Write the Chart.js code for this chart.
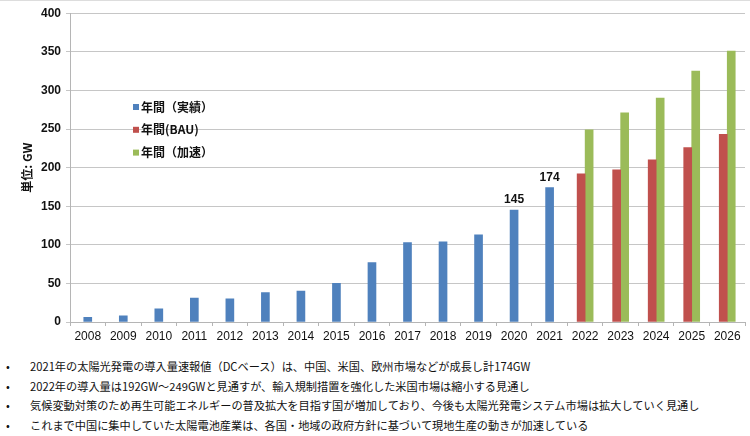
<!DOCTYPE html>
<html>
<head>
<meta charset="utf-8">
<script src="https://cdn.jsdelivr.net/npm/chart.js@4.4.1/dist/chart.umd.min.js"></script>
<style>
  html, body { margin: 0; padding: 0; background: #fff; }
  #wrap { position: relative; width: 750px; height: 436px; overflow: hidden; border-top: 1px solid #ddd; box-sizing: border-box; }
  #box { position: absolute; left: 0; top: 0; width: 750px; height: 345px; }
  #notes { position: absolute; left: 0; top: 356px; margin: 0; padding: 0; list-style: none;
           font-family: "Noto Sans CJK JP", sans-serif; font-size: 11.2px; color: #111; }
  #notes li { position: relative; height: 19.5px; line-height: 19.5px; padding-left: 30px; white-space: nowrap; }
  #notes li::before { content: "•"; position: absolute; left: 6px; }
</style>
</head>
<body>
<div id="wrap">
  <div id="box"><canvas id="chart"></canvas></div>
  <ul id="notes"></ul>
</div>
<script>
// --- data ---
const years = ['2008', '2009', '2010', '2011', '2012', '2013', '2014', '2015', '2016', '2017',
               '2018', '2019', '2020', '2021', '2022', '2023', '2024', '2025', '2026'];
const actual = [6, 8, 17, 31, 30, 38, 40, 50, 77, 103, 104, 113, 145, 174, null, null, null, null, null];
const bau = [null, null, null, null, null, null, null, null, null, null, null, null, null, null, 192, 197, 210, 226, 243];
const accel = [null, null, null, null, null, null, null, null, null, null, null, null, null, null, 249, 271, 290, 325, 351];
const seriesNames = ['年間（実績）', '年間(BAU)', '年間（加速）'];
const labelledYears = ['2020', '2021'];
const notes = [
    '2021年の太陽光発電の導入量速報値（DCベース）は、中国、米国、欧州市場などが成長し計174GW',
    '2022年の導入量は192GW～249GWと見通すが、輸入規制措置を強化した米国市場は縮小する見通し',
    '気候変動対策のため再生可能エネルギーの普及拡大を目指す国が増加しており、今後も太陽光発電システム市場は拡大していく見通し',
    'これまで中国に集中していた太陽電池産業は、各国・地域の政府方針に基づいて現地生産の動きが加速している'
];

document.getElementById('notes').innerHTML = notes.map(t => '<li>' + t + '</li>').join('');

const latin = '"Liberation Sans", Arial, sans-serif';

// values over the 2020 / 2021 bars
const valueLabels = {
    id: 'valueLabels',
    afterDatasetsDraw(chart) {
        const ctx = chart.ctx;
        const meta = chart.getDatasetMeta(0);
        ctx.save();
        ctx.font = 'bold 12px ' + latin;
        ctx.fillStyle = '#111';
        ctx.textAlign = 'center';
        ctx.textBaseline = 'bottom';
        years.forEach((y, i) => {
            if (!labelledYears.includes(y)) return;
            const bar = meta.data[i];
            ctx.fillText(String(actual[i]), bar.x, bar.y - 4);
        });
        ctx.restore();
    }
};

// legend drawn inside the plot
const innerLegend = {
    id: 'innerLegend',
    afterDraw(chart) {
        const ctx = chart.ctx;
        ctx.save();
        ctx.font = 'bold 12px "Noto Sans CJK JP", ' + latin;
        ctx.textBaseline = 'middle';
        chart.data.datasets.forEach((ds, i) => {
            const y = 106 + i * 22.8;
            ctx.fillStyle = ds.backgroundColor;
            ctx.fillRect(133, y - 3, 6, 6);
            ctx.fillStyle = '#111';
            ctx.fillText(ds.label, 141, y);
        });
        ctx.restore();
    }
};

new Chart(document.getElementById('chart'), {
    type: 'bar',
    data: {
        labels: years,
        datasets: [
            { label: seriesNames[0], data: actual, backgroundColor: '#4f81bd' },
            { label: seriesNames[1], data: bau, backgroundColor: '#c0504d' },
            { label: seriesNames[2], data: accel, backgroundColor: '#9bbb59' }
        ]
    },
    options: {
        responsive: true,
        maintainAspectRatio: false,
        animation: false,
        skipNull: true,
        barThickness: 8,
        layout: { padding: { top: 6, right: 5, left: 0, bottom: 0 } },
        plugins: {
            legend: { display: false },
            tooltip: { enabled: false }
        },
        scales: {
            x: {
                grid: { drawOnChartArea: false, drawTicks: true, tickLength: 4, color: '#b5b5b5', offset: true },
                border: { color: '#b5b5b5' },
                ticks: { color: '#111', font: { family: latin, size: 12 }, padding: 3, maxRotation: 0, autoSkip: false },
                afterFit(scale) { scale.height = 24; }
            },
            y: {
                min: 0,
                max: 400,
                ticks: { stepSize: 50, color: '#111', font: { family: latin, size: 12, weight: 'bold' }, padding: 5 },
                grid: { color: '#c6c6c6', tickLength: 4 },
                border: { color: '#b5b5b5' },
                title: {
                    display: true,
                    text: '単位: GW',
                    color: '#111',
                    font: { family: '"Noto Sans CJK JP", ' + latin, size: 12, weight: 'bold' },
                    padding: { top: 20, bottom: 0 }
                },
                afterFit(scale) { scale.width = 70; }
            }
        }
    },
    plugins: [valueLabels, innerLegend]
});
</script>
</body>
</html>
